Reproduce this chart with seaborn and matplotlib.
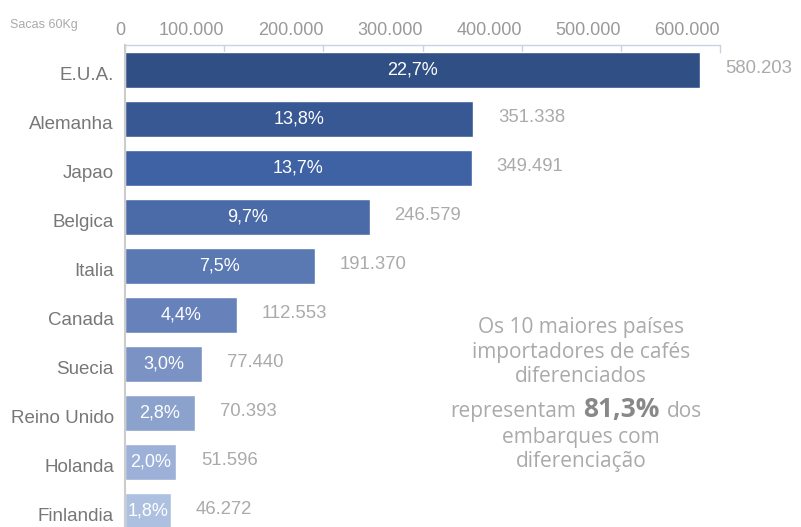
#!/usr/bin/env python3
"""Top 10 importers of differentiated coffee - horizontal bar chart."""
import matplotlib
matplotlib.use("Agg")
import matplotlib.pyplot as plt
import matplotlib.transforms as mtransforms
from matplotlib import font_manager
import seaborn as sns

# data
countries = ["E.U.A.", "Alemanha", "Japao", "Belgica", "Italia",
             "Canada", "Suecia", "Reino Unido", "Holanda", "Finlandia"]
sacas = [580203, 351338, 349491, 246579, 191370,
         112553, 77440, 70393, 51596, 46272]
shares = ["22,7%", "13,8%", "13,7%", "9,7%", "7,5%",
          "4,4%", "3,0%", "2,8%", "2,0%", "1,8%"]
bar_colors = ["#2f4f85", "#385894", "#3f62a4", "#4a6aa8", "#5a78b2",
              "#6782ba", "#7b92c4", "#8aa2cc", "#9db0d8", "#adc0e0"]
x_ticks = [0, 100000, 200000, 300000, 400000, 500000, 600000]


def fmt_br(v):
    # brazilian thousands separator
    return f"{v:,}".replace(",", ".")


sns.set_theme(style="white")
plt.rcParams["font.family"] = ["Liberation Sans", "DejaVu Sans"]

# narrow face for the unit label if it is there
installed = {f.name for f in font_manager.fontManager.ttflist}
if "Liberation Sans Narrow" in installed:
    unit_font, unit_size = "Liberation Sans Narrow", 11
else:
    unit_font, unit_size = "Liberation Sans", 9

W, H = 801, 527
fig = plt.figure(figsize=(W / 100, H / 100), dpi=100)
ax = fig.add_axes([125 / W, 0, 595 / W, 482 / H])

sns.barplot(x=sacas, y=countries, hue=countries, palette=bar_colors,
            legend=False, orient="h", width=0.735, saturation=1, ax=ax)

ax.set_xlim(0, 600000)
ax.set_ylim(9.327, -0.51)

# axis on top, labels sit left of their tick
ax.xaxis.tick_top()
ax.set_xticks(x_ticks)
ax.set_xticklabels([fmt_br(t) for t in x_ticks], ha="right")
ax.tick_params(axis="x", top=True, bottom=False, direction="in", length=5.5,
               width=1, color="#c8d2e4", pad=4.5, labelsize=13, labelcolor="#999999")
ax.tick_params(axis="y", left=False, length=0, pad=8, labelsize=13.5,
               labelcolor="#777777")
ax.set_xlabel("")
ax.set_ylabel("")

# country names sit a bit below bar centre
shift = mtransforms.ScaledTranslation(0, -4 / 100, fig.dpi_scale_trans)
for lab in ax.get_yticklabels():
    lab.set_transform(lab.get_transform() + shift)

for side in ["right", "bottom"]:
    ax.spines[side].set_visible(False)
ax.spines["top"].set_color("#c8d2e4")
ax.spines["top"].set_linewidth(1)
ax.spines["left"].set_color("#cccccc")
ax.spines["left"].set_linewidth(1.5)

# labels on bars
for i, (v, s) in enumerate(zip(sacas, shares)):
    ax.text(v / 2, i, s, ha="center", va="center", color="white", fontsize=13)
    ax.annotate(fmt_br(v), xy=(v, i), xytext=(25, 1.5), textcoords="offset pixels",
                ha="left", va="center", color="#aaaaaa", fontsize=13.3,
                annotation_clip=False)

fig.text(10 / W, 1 - 25 / H, "Sacas 60Kg", ha="left", va="center",
         color="#aaaaaa", fontsize=unit_size, family=[unit_font, "DejaVu Sans"])

# side note
note_kw = dict(color="#aaaaaa", fontsize=15, family=["Open Sans", "DejaVu Sans"],
               va="baseline")
cx = 581 / W
fig.text(cx, 1 - 333 / H, "Os 10 maiores países", ha="center", **note_kw)
fig.text(cx, 1 - 358 / H, "importadores de cafés", ha="center", **note_kw)
fig.text(cx, 1 - 382 / H, "diferenciados", ha="center", **note_kw)
fig.text(576 / W, 1 - 417 / H, "representam", ha="right", **note_kw)
fig.text(621 / W, 1 - 417 / H, "81,3%", ha="center", color="#888888",
         fontsize=19, fontweight="bold", family=["Open Sans", "DejaVu Sans"],
         va="baseline")
fig.text(667 / W, 1 - 417 / H, "dos", ha="left", **note_kw)
fig.text(cx, 1 - 443 / H, "embarques com", ha="center", **note_kw)
fig.text(cx, 1 - 467 / H, "diferenciação", ha="center", **note_kw)

fig.savefig("out.png", dpi=100)
